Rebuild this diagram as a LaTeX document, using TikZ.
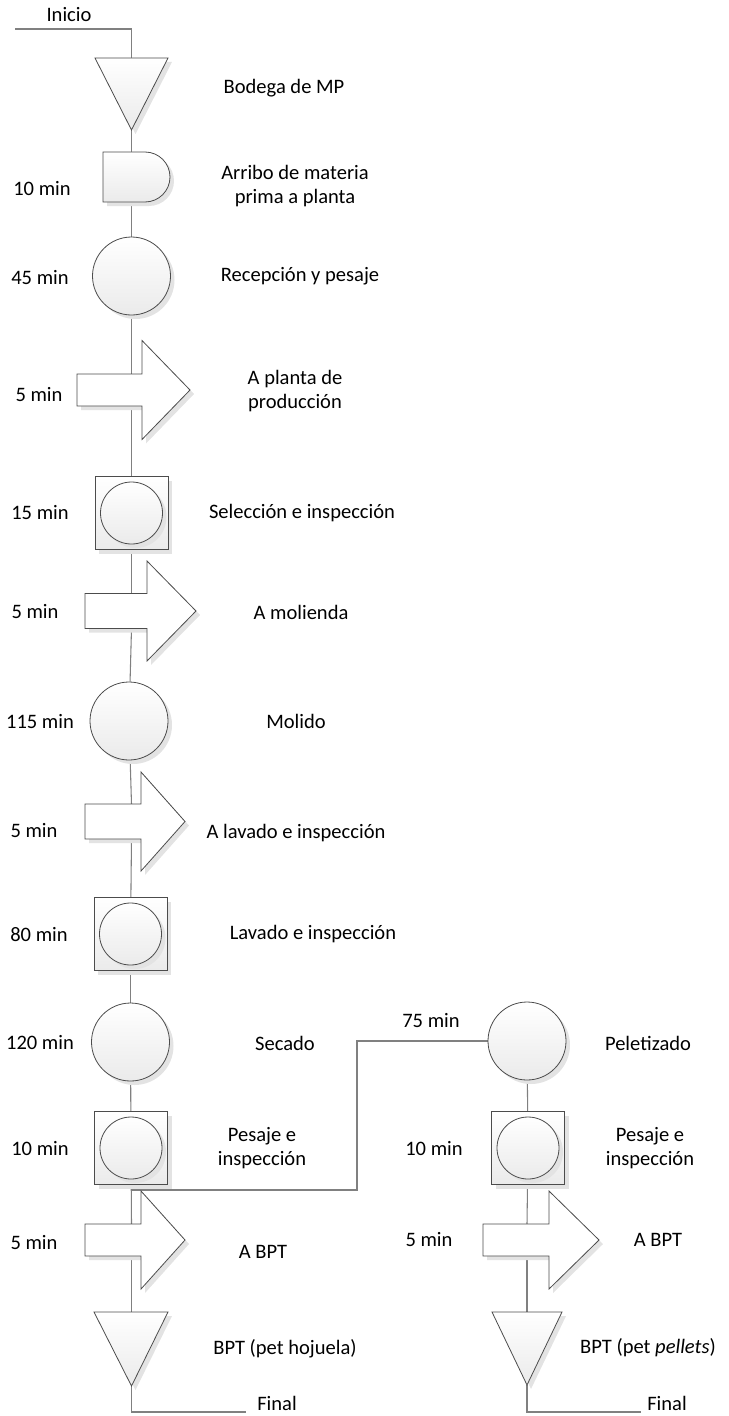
\documentclass[tikz,border=0pt]{standalone}
\usepackage{fontspec}
\setmainfont{Carlito}
\usetikzlibrary{shadows,backgrounds}
\begin{document}
\begin{tikzpicture}[x=0.75pt,y=-0.75pt,
  conn/.style={draw=black!50, line width=0.8pt},
  shd/.style={drop shadow={shadow xshift=3pt, shadow yshift=-3pt, fill=black!11, opacity=1}},
  shp/.style={shd, draw=black!70, line width=0.6pt, top color=white, bottom color=black!8},
  arr/.style={shd, draw=black!70, line width=0.6pt, fill=white},
  opc/.style={shp, circle, minimum size=58.5pt, inner sep=0pt},
  insp/.style={shp, rectangle, minimum size=54.75pt, inner sep=0pt},
  inc/.style={shp, circle, minimum size=46.5pt, inner sep=0pt},
  lbl/.style={font=\fontsize{15.4}{18.2}\selectfont, align=center, inner sep=0pt}
]
\useasboundingbox (0,0) rectangle (728,1416);

% ---------- left column shapes ----------
\path[shp] (95,58) -- (168,58) -- (131.5,130) -- cycle;
\coordinate (t1t) at (131.5,58); \coordinate (t1a) at (131.5,130);

\path[shp] (103,152) -- (145,152) arc[start angle=90, end angle=-90, radius=18.75pt] -- (103,202) -- cycle;
\coordinate (d1t) at (131.5,152); \coordinate (d1b) at (131.5,202);

\node[opc] (c1) at (131.5,276) {};

\path[arr] (77,374) -- (142,374) -- (142,340.5) -- (190,390) -- (142,439.5) -- (142,406) -- (77,406) -- cycle;
\coordinate (a1t) at (131.5,374); \coordinate (a1b) at (131.5,406);

\node[insp] (s1) at (131.5,513) {};
\node[inc] (sc1) at (131.5,513) {};

\path[arr] (85,593.5) -- (147,593.5) -- (147,561) -- (196,611) -- (147,661) -- (147,628.5) -- (85,628.5) -- cycle;
\coordinate (a2t) at (131.5,593.5); \coordinate (a2b) at (131.5,628.5);

\node[opc] (c2) at (129,721) {};

\path[arr] (85,804) -- (141,804) -- (141,772) -- (185,821.5) -- (141,871) -- (141,839) -- (85,839) -- cycle;
\coordinate (a3t) at (131.5,804); \coordinate (a3b) at (131.5,839);

\node[insp] (s2) at (130.5,934) {};
\node[inc] (sc2) at (130.5,934) {};

\node[opc] (c3) at (130.5,1042) {};

\node[insp] (s3) at (131,1148) {};
\node[inc] (sc3) at (131,1148) {};

\path[arr] (85,1224) -- (141,1224) -- (141,1191) -- (185,1240) -- (141,1289) -- (141,1256) -- (85,1256) -- cycle;
\coordinate (a4t) at (131.5,1224); \coordinate (a4b) at (131.5,1256);

\path[shp] (94,1312) -- (168,1312) -- (131.5,1386) -- cycle;
\coordinate (t4t) at (131.5,1312); \coordinate (t4a) at (131.5,1386);

% ---------- right column shapes ----------
\node[opc] (pel) at (527,1041) {};
\node[insp] (s4) at (528,1148) {};
\node[inc] (sc4) at (528,1148) {};

\path[arr] (483,1224) -- (549,1224) -- (549,1191) -- (599,1240) -- (549,1289) -- (549,1256) -- (483,1256) -- cycle;
\coordinate (a5t) at (527,1224); \coordinate (a5b) at (527,1256);

\path[shp] (492,1312) -- (562,1312) -- (527,1385) -- cycle;
\coordinate (t5t) at (527,1312); \coordinate (t5a) at (527,1385);

% ---------- free ends ----------
\coordinate (ini0) at (15,29); \coordinate (ini1) at (131.5,29);
\coordinate (br0) at (131.5,1190); \coordinate (br1) at (357,1041);
\coordinate (f1a) at (131.5,1412); \coordinate (f1b) at (246,1412);
\coordinate (f2a) at (527,1412); \coordinate (f2b) at (641,1412);

% ---------- connectors ----------
\begin{scope}[on background layer]
\draw[conn] (ini0) -- (ini1) -- (t1t);
\draw[conn] (t1a) -- (d1t);
\draw[conn] (d1b) -- (c1);
\draw[conn] (c1) -- (a1t);
\draw[conn] (a1b) -- (s1);
\draw[conn] (s1) -- (a2t);
\draw[conn] (a2b) -- (c2);
\draw[conn] (c2) -- (a3t);
\draw[conn] (a3b) -- (s2);
\draw[conn] (s2) -- (c3);
\draw[conn] (c3) -- (s3);
\draw[conn] (s3) -- (a4t);
\draw[conn] (a4b) -- (t4t);
\draw[conn] (t4a) -- (f1a) -- (f1b);
\draw[conn] (br0) -| (br1) -- (pel);
\draw[conn] (pel) -- (s4);
\draw[conn] (s4) -- (a5t);
\draw[conn] (a5b) -- (t5t);
\draw[conn] (t5a) -- (f2a) -- (f2b);
\end{scope}

% ---------- labels ----------
\node[lbl] (lIni) at (69,15) {Inicio};
\node[lbl] (lBod) at (284,88) {Bodega de MP};
\node[lbl] (lt1) at (42,189) {10 min};
\node[lbl] (lArr) at (295,186) {Arribo de materia\\prima a planta};
\node[lbl] (lt2) at (40,278) {45 min};
\node[lbl] (lRec) at (300,276) {Recepción y pesaje};
\node[lbl] (lt3) at (39,395) {5 min};
\node[lbl] (lApl) at (295,391) {A planta de\\producción};
\node[lbl] (lt4) at (40,513) {15 min};
\node[lbl] (lSel) at (302,513) {Selección e inspección};
\node[lbl] (lt5) at (35,612) {5 min};
\node[lbl] (lMol) at (301,612) {A molienda};
\node[lbl] (lt6) at (40,721) {115 min};
\node[lbl] (lMdo) at (296,721) {Molido};
\node[lbl] (lt7) at (34,830) {5 min};
\node[lbl] (lAlav) at (296,833) {A lavado e inspección};
\node[lbl] (lt8) at (39,934) {80 min};
\node[lbl] (lLav) at (313,934) {Lavado e inspección};
\node[lbl] (lt9) at (40,1042) {120 min};
\node[lbl] (lSec) at (285,1043) {Secado};
\node[lbl] (lt10) at (40,1148) {10 min};
\node[lbl] (lPes) at (262,1148) {Pesaje e\\inspección};
\node[lbl] (lt11) at (34,1242) {5 min};
\node[lbl] (lABPT) at (263,1252) {A BPT};
\node[lbl] (lBPT1) at (285,1349) {BPT (pet hojuela)};
\node[lbl] (lFin1) at (277,1403) {Final};
\node[lbl] (lt12) at (431,1020) {75 min};
\node[lbl] (lPel) at (648,1043) {Peletizado};
\node[lbl] (lt13) at (434,1148) {10 min};
\node[lbl] (lPes2) at (650,1148) {Pesaje e\\inspección};
\node[lbl] (lt14) at (429,1239) {5 min};
\node[lbl] (lABPT2) at (658,1240) {A BPT};
\node[lbl] (lBPT2) at (648,1348) {BPT (pet \textit{pellets})};
\node[lbl] (lFin2) at (667,1403) {Final};
\end{tikzpicture}
\end{document}
